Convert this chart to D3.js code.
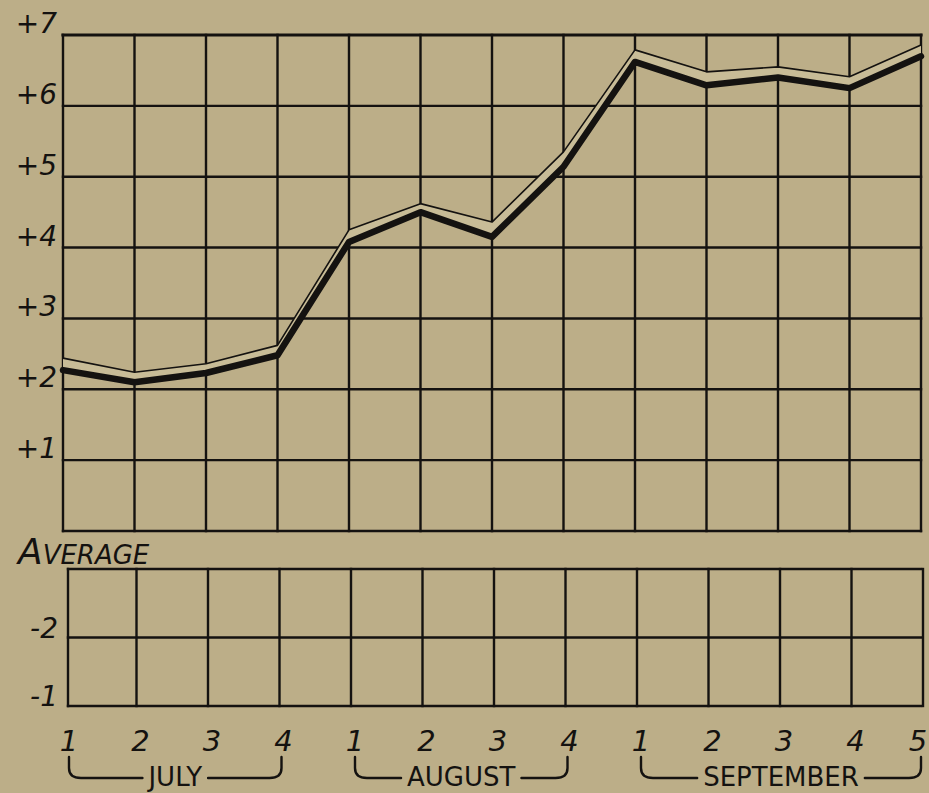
<!DOCTYPE html>
<html>
<head>
<meta charset="utf-8">
<script src="https://cdn.jsdelivr.net/npm/d3@7"></script>
<style>
  html, body { margin: 0; padding: 0; background: #bcae88; }
  svg { display: block; }
</style>
</head>
<body>
<svg id="chart"></svg>
<script>
// ---- data ----
const weekLabels = ["1", "2", "3", "4", "1", "2", "3", "4", "1", "2", "3", "4", "5"];
const monthNames = ["JULY", "AUGUST", "SEPTEMBER"];
const monthFirst = [0, 4, 8];   // index of first week
const monthLast = [3, 7, 12];   // index of last week
const upperTicks = [1, 2, 3, 4, 5, 6, 7];
const lowerTicks = [-2, -1];
// thick line (main series)
const mainValues = [2.27, 2.10, 2.23, 2.48, 4.08, 4.50, 4.15, 5.14, 6.62, 6.29, 6.40, 6.25, 6.70];
// thin line drawn just above it
const thinValues = [2.44, 2.24, 2.36, 2.62, 4.25, 4.62, 4.36, 5.35, 6.79, 6.48, 6.55, 6.41, 6.86];

// ---- setup ----
const width = 929, height = 793;
const ink = "#141210";
const svg = d3.select("#chart").attr("width", width).attr("height", height);

const x = d3.scalePoint().domain(d3.range(weekLabels.length)).range([63, 921]);
const y = d3.scaleLinear().domain([0, 7]).range([531, 35]);
const yLow = d3.scaleLinear().domain([-3, -1]).range([569, 706]);

const grid = svg.append("g")
  .attr("stroke", ink)
  .attr("stroke-width", 2.4)
  .attr("stroke-linecap", "square");

// upper panel grid
grid.selectAll(".hu")
  .data(d3.range(0, 8))
  .enter().append("line")
  .attr("x1", x(0)).attr("x2", x(weekLabels.length - 1))
  .attr("y1", d => y(d)).attr("y2", d => y(d))
  .attr("stroke-width", d => d === 7 ? 3.2 : 2.4);

grid.selectAll(".vu")
  .data(d3.range(weekLabels.length))
  .enter().append("line")
  .attr("x1", d => x(d)).attr("x2", d => x(d))
  .attr("y1", y(7)).attr("y2", y(0));

// lower panel grid
grid.selectAll(".hl")
  .data([-3, -2, -1])
  .enter().append("line")
  .attr("x1", x(0) + 5).attr("x2", x(weekLabels.length - 1))
  .attr("y1", d => yLow(d)).attr("y2", d => yLow(d));

grid.selectAll(".vl")
  .data(d3.range(weekLabels.length))
  .enter().append("line")
  .attr("x1", d => d === 0 ? x(d) + 5 : x(d) + 2).attr("x2", d => d === 0 ? x(d) + 5 : x(d) + 2)
  .attr("y1", yLow(-3)).attr("y2", yLow(-1));

// ---- data lines ----
const lineMain = d3.line().x((d, i) => x(i)).y(d => y(d));
const band = d3.area().x((d, i) => x(i)).y0((d, i) => y(mainValues[i])).y1(d => y(d));

svg.append("path")
  .datum(thinValues)
  .attr("d", band)
  .attr("fill", "#c8bc97");

svg.append("path")
  .datum(thinValues)
  .attr("d", lineMain)
  .attr("fill", "none")
  .attr("stroke", ink)
  .attr("stroke-width", 1.6)
  .attr("stroke-linejoin", "round");

svg.append("path")
  .datum(mainValues)
  .attr("d", lineMain)
  .attr("fill", "none")
  .attr("stroke", ink)
  .attr("stroke-width", 6.5)
  .attr("stroke-linejoin", "round")
  .attr("stroke-linecap", "round");

// ---- labels ----
const labelFont = "'DejaVu Sans', sans-serif";

svg.selectAll(".ytick")
  .data(upperTicks)
  .enter().append("text")
  .attr("x", 57)
  .attr("y", d => y(d) - 2)
  .attr("text-anchor", "end")
  .attr("font-family", labelFont)
  .attr("font-style", "italic")
  .attr("font-size", 28)
  .attr("fill", ink)
  .text(d => "+" + d);

svg.selectAll(".ltick")
  .data(lowerTicks)
  .enter().append("text")
  .attr("x", 58)
  .attr("y", d => yLow(d))
  .attr("text-anchor", "end")
  .attr("font-family", labelFont)
  .attr("font-style", "italic")
  .attr("font-size", 28)
  .attr("fill", ink)
  .text(d => String(d));

const avg = svg.append("text")
  .attr("x", 18)
  .attr("y", 564)
  .attr("font-family", labelFont)
  .attr("font-style", "italic")
  .attr("fill", ink);
avg.append("tspan").attr("font-size", 36).text("A");
avg.append("tspan").attr("font-size", 26).text("VERAGE");

svg.selectAll(".xtick")
  .data(weekLabels)
  .enter().append("text")
  .attr("x", (d, i) => i === weekLabels.length - 1 ? x(i) - 3 : x(i) + 6)
  .attr("y", 751)
  .attr("text-anchor", "middle")
  .attr("font-family", labelFont)
  .attr("font-style", "italic")
  .attr("font-size", 29)
  .attr("fill", ink)
  .text(d => d);

// month brackets
monthNames.forEach((name, k) => {
  const x0 = x(monthFirst[k]) + 6;
  const x1 = x(monthLast[k]) + (k === monthNames.length - 1 ? 0 : 4);
  const mid = (x0 + x1) / 2;
  const t = svg.append("text")
    .attr("x", mid)
    .attr("y", 786)
    .attr("text-anchor", "middle")
    .attr("font-family", labelFont)
    .attr("font-size", 26)
    .attr("fill", ink)
    .text(name);
  const half = t.node().getComputedTextLength() / 2;
  const top = 757, bot = 778;
  const p = d3.path();
  p.moveTo(x0, top);
  p.lineTo(x0, bot - 10);
  p.quadraticCurveTo(x0, bot, x0 + 12, bot);
  p.lineTo(mid - half - 6, bot);
  p.moveTo(mid + half + 6, bot);
  p.lineTo(x1 - 12, bot);
  p.quadraticCurveTo(x1, bot, x1, bot - 10);
  p.lineTo(x1, top);
  svg.append("path")
    .attr("d", p.toString())
    .attr("fill", "none")
    .attr("stroke", ink)
    .attr("stroke-width", 2.4)
    .attr("stroke-linecap", "round");
});
</script>
</body>
</html>
